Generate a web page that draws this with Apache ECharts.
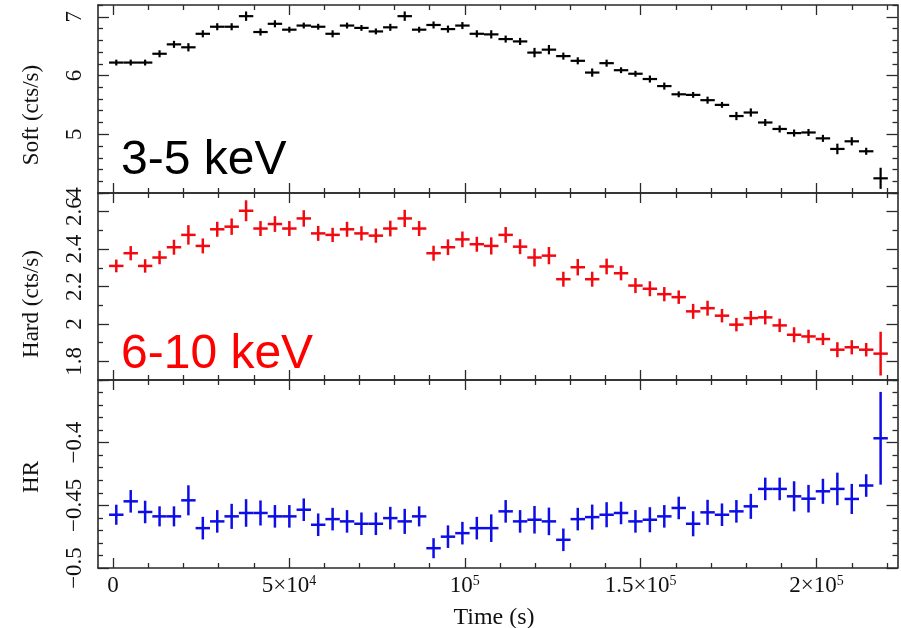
<!DOCTYPE html>
<html>
<head>
<meta charset="utf-8">
<script src="https://cdn.jsdelivr.net/npm/echarts@6/dist/echarts.min.js"></script>
<style>
  html, body { margin: 0; padding: 0; background: #fff; overflow: hidden; }
  #chart { width: 901px; height: 628px; }
</style>
</head>
<body>
<div id="chart"></div>
<script>
// Bin centres of the light curve (s)
const times = [
  900, 5000, 9100, 13200, 17300, 21400, 25500, 29600, 33700, 37800,
  41900, 46000, 50100, 54200, 58300, 62400, 66500, 70600, 74700, 78800,
  82900, 87000, 91100, 95200, 99300, 103400, 107500, 111600, 115700, 119800,
  123900, 128000, 132100, 136200, 140300, 144400, 148500, 152600, 156700, 160800,
  164900, 169000, 173100, 177200, 181300, 185400, 189500, 193600, 197700, 201800,
  205900, 210000, 214100, 218200
];
const binHalfWidth = 2050;

// 3-5 keV count rate (cts/s)
const soft = [
  6.22, 6.22, 6.22, 6.37, 6.53, 6.48, 6.71, 6.83, 6.83, 7.01,
  6.74, 6.88, 6.78, 6.85, 6.83, 6.71, 6.85, 6.81, 6.75, 6.82,
  7.01, 6.78, 6.86, 6.79, 6.85, 6.71, 6.70, 6.62, 6.58, 6.39,
  6.44, 6.33, 6.25, 6.05, 6.21, 6.09, 6.03, 5.94, 5.82, 5.68,
  5.67, 5.58, 5.50, 5.31, 5.37, 5.20, 5.09, 5.02, 5.03, 4.93,
  4.75, 4.88, 4.71, 4.25
];
const softErr = [
  0.05, 0.05, 0.05, 0.06, 0.06, 0.07, 0.06, 0.06, 0.06, 0.08,
  0.06, 0.06, 0.05, 0.05, 0.05, 0.06, 0.05, 0.05, 0.05, 0.06,
  0.08, 0.05, 0.06, 0.06, 0.06, 0.06, 0.07, 0.06, 0.06, 0.08,
  0.08, 0.06, 0.06, 0.07, 0.06, 0.05, 0.05, 0.06, 0.06, 0.05,
  0.05, 0.06, 0.05, 0.07, 0.07, 0.06, 0.06, 0.06, 0.06, 0.06,
  0.09, 0.07, 0.06, 0.18
];

// 6-10 keV count rate (cts/s)
const hard = [
  2.310, 2.378, 2.310, 2.355, 2.410, 2.476, 2.417, 2.506, 2.520, 2.605,
  2.510, 2.534, 2.510, 2.564, 2.484, 2.476, 2.506, 2.484, 2.472, 2.510,
  2.564, 2.510, 2.378, 2.410, 2.452, 2.426, 2.417, 2.476, 2.413, 2.355,
  2.365, 2.239, 2.303, 2.239, 2.307, 2.271, 2.205, 2.188, 2.159, 2.143,
  2.067, 2.084, 2.044, 1.996, 2.031, 2.035, 1.992, 1.942, 1.933, 1.919,
  1.862, 1.875, 1.862, 1.841
];
const hardErr = [
  0.034, 0.038, 0.036, 0.036, 0.040, 0.052, 0.040, 0.040, 0.044, 0.056,
  0.040, 0.042, 0.040, 0.044, 0.040, 0.038, 0.040, 0.038, 0.038, 0.042,
  0.046, 0.040, 0.040, 0.042, 0.042, 0.040, 0.046, 0.042, 0.040, 0.048,
  0.046, 0.040, 0.044, 0.040, 0.042, 0.038, 0.040, 0.040, 0.038, 0.036,
  0.040, 0.040, 0.036, 0.036, 0.038, 0.038, 0.036, 0.040, 0.036, 0.032,
  0.040, 0.038, 0.036, 0.117
];

// Hardness ratio
const hr = [
  -0.4575, -0.4468, -0.4553, -0.4588, -0.4588, -0.4460, -0.4682, -0.4628, -0.4588, -0.4561,
  -0.4561, -0.4588, -0.4588, -0.4535, -0.4655, -0.4610, -0.4628, -0.4647, -0.4647, -0.4602,
  -0.4628, -0.4588, -0.4842, -0.4750, -0.4722, -0.4682, -0.4682, -0.4548, -0.4628, -0.4615,
  -0.4628, -0.4775, -0.4610, -0.4594, -0.4575, -0.4561, -0.4628, -0.4615, -0.4588, -0.4521,
  -0.4647, -0.4556, -0.4575, -0.4548, -0.4508, -0.4369, -0.4369, -0.4428, -0.4447, -0.4388,
  -0.4369, -0.4449, -0.4342, -0.3965
];
const hrErr = [
  0.008, 0.009, 0.009, 0.008, 0.008, 0.012, 0.009, 0.009, 0.010, 0.011,
  0.010, 0.009, 0.009, 0.009, 0.009, 0.009, 0.009, 0.009, 0.009, 0.009,
  0.010, 0.008, 0.008, 0.009, 0.009, 0.009, 0.011, 0.009, 0.009, 0.011,
  0.011, 0.009, 0.009, 0.010, 0.010, 0.009, 0.009, 0.010, 0.009, 0.009,
  0.010, 0.010, 0.009, 0.009, 0.010, 0.009, 0.009, 0.012, 0.011, 0.010,
  0.013, 0.012, 0.009, 0.037
];

// Tick positions
const timeMajorTicks = [0, 50000, 100000, 150000, 200000];
const timeMinorTicks = [10000, 20000, 30000, 40000, 60000, 70000, 80000, 90000,
  110000, 120000, 130000, 140000, 160000, 170000, 180000, 190000, 210000, 220000];
const timeTickLabels = ['0', '5×10|4', '10|5', '1.5×10|5', '2×10|5'];

const softMajorTicks = [4, 5, 6, 7];
const softMinorTicks = [4.2, 4.4, 4.6, 4.8, 5.2, 5.4, 5.6, 5.8, 6.2, 6.4, 6.6, 6.8, 7.2];
const softLabelTicks = [4, 5, 6, 7];

const hardMajorTicks = [1.8, 2.0, 2.2, 2.4, 2.6];
const hardMinorTicks = [1.7, 1.9, 2.1, 2.3, 2.5, 2.7];
const hardLabelTicks = [1.8, 2.0, 2.2, 2.4, 2.6];

const hrMajorTicks = [-0.5, -0.45, -0.4, -0.35];
const hrMinorTicks = [-0.49, -0.48, -0.47, -0.46, -0.44, -0.43, -0.42, -0.41,
  -0.39, -0.38, -0.37, -0.36];
const hrLabelTicks = [-0.5, -0.45, -0.4];

const SERIF = '"Liberation Serif", "DejaVu Serif", serif';
const SANS = '"Liberation Sans", Arial, sans-serif';
const FRAME = '#2a2a2a';
const timeRange = [-4300, 223000];

const panels = [
  { name: 'Soft', values: soft, errors: softErr, color: '#000000', width: 2.2, range: [4, 7.2],
    major: softMajorTicks, minor: softMinorTicks, labels: softLabelTicks,
    fmt: v => String(v), top: 5, height: 188 },
  { name: 'Hard', values: hard, errors: hardErr, color: '#f2090f', width: 2.5, range: [1.7, 2.7],
    major: hardMajorTicks, minor: hardMinorTicks, labels: hardLabelTicks,
    fmt: v => (Math.abs(v - 2) < 1e-9 ? '2' : v.toFixed(1)), top: 193, height: 187 },
  { name: 'HR', values: hr, errors: hrErr, color: '#0d0de6', width: 2.5, range: [-0.5, -0.35],
    major: hrMajorTicks, minor: hrMinorTicks, labels: hrLabelTicks,
    fmt: v => '\u2212' + String(Math.abs(v)), top: 380, height: 188 }
];

function timeLabel(v) {
  const i = timeMajorTicks.indexOf(v);
  const parts = timeTickLabels[i].split('|');
  return parts.length > 1 ? '{b|' + parts[0] + '}{s|' + parts[1] + '}' : '{b|' + parts[0] + '}';
}

const grids = [], xAxes = [], yAxes = [], series = [];

panels.forEach((p, i) => {
  grids.push({ left: 98, right: 3.5, top: p.top, height: p.height, show: false });
  const isBottom = i === panels.length - 1;

  // Time axes: major/minor ticks on the bottom and top edges
  [['bottom', true], ['bottom', false], ['top', true], ['top', false]].forEach(([pos, major]) => {
    xAxes.push({
      type: 'value', gridIndex: i, position: pos,
      min: timeRange[0], max: timeRange[1],
      axisLine: { show: major, onZero: false, lineStyle: { color: FRAME, width: 1.6 } },
      axisTick: { show: true, inside: true, length: major ? 10 : 5,
        customValues: major ? timeMajorTicks : timeMinorTicks,
        lineStyle: { color: FRAME, width: 1.3 } },
      axisLabel: (isBottom && pos === 'bottom' && major) ? {
        show: true, margin: 6, customValues: timeMajorTicks,
        formatter: timeLabel,
        rich: {
          b: { fontFamily: SERIF, fontSize: 23, color: '#111', lineHeight: 24 },
          s: { fontFamily: SERIF, fontSize: 14, color: '#111', verticalAlign: 'top', lineHeight: 14 }
        }
      } : { show: false },
      splitLine: { show: false }
    });
  });

  // Value axes: major/minor ticks on the left and right edges
  [['left', true], ['left', false], ['right', true], ['right', false]].forEach(([pos, major]) => {
    yAxes.push({
      type: 'value', gridIndex: i, position: pos,
      min: p.range[0], max: p.range[1],
      axisLine: { show: major, onZero: false, lineStyle: { color: FRAME, width: 1.6 } },
      axisTick: { show: true, inside: true, length: major ? 11 : 5,
        customValues: major ? p.major : p.minor,
        lineStyle: { color: FRAME, width: 1.3 } },
      axisLabel: (pos === 'left' && major) ? {
        show: true, rotate: 90, margin: 12, customValues: p.labels,
        formatter: p.fmt, fontFamily: SERIF, fontSize: 23, color: '#111'
      } : { show: false },
      splitLine: { show: false }
    });
  });

  const data = times.map((t, k) => [t, p.values[k], binHalfWidth, p.errors[k]]);
  series.push({
    type: 'custom', name: p.name, xAxisIndex: i * 4, yAxisIndex: i * 4,
    data, clip: true, silent: true,
    encode: { x: 0, y: 1 },
    renderItem: (params, api) => {
      const t = api.value(0), v = api.value(1), dx = api.value(2), dy = api.value(3);
      const l = api.coord([t - dx, v]), r = api.coord([t + dx, v]);
      const a = api.coord([t, v + dy]), b = api.coord([t, v - dy]);
      const style = { stroke: p.color, lineWidth: p.width };
      return {
        type: 'group',
        children: [
          { type: 'line', shape: { x1: l[0], y1: l[1], x2: r[0], y2: r[1] }, style },
          { type: 'line', shape: { x1: a[0], y1: a[1], x2: b[0], y2: b[1] }, style }
        ]
      };
    }
  });
});

const chart = echarts.init(document.getElementById('chart'), null, { renderer: 'canvas' });
chart.setOption({
  backgroundColor: '#ffffff',
  animation: false,
  grid: grids,
  xAxis: xAxes,
  yAxis: yAxes,
  series,
  graphic: [
    { type: 'text', x: 32, y: 115, rotation: Math.PI / 2,
      style: { text: 'Soft (cts/s)', font: '23px ' + SERIF, fill: '#111', textAlign: 'center', textVerticalAlign: 'middle' } },
    { type: 'text', x: 32, y: 304, rotation: Math.PI / 2,
      style: { text: 'Hard (cts/s)', font: '23px ' + SERIF, fill: '#111', textAlign: 'center', textVerticalAlign: 'middle' } },
    { type: 'text', x: 32, y: 477, rotation: Math.PI / 2,
      style: { text: 'HR', font: '23px ' + SERIF, fill: '#111', textAlign: 'center', textVerticalAlign: 'middle' } },
    { type: 'text', x: 494, y: 618,
      style: { text: 'Time (s)', font: '24px ' + SERIF, fill: '#111', textAlign: 'center', textVerticalAlign: 'middle' } },
    { type: 'text', x: 121, y: 161,
      style: { text: '3-5 keV', font: '48px ' + SANS, fill: '#000', textAlign: 'left', textVerticalAlign: 'middle' } },
    { type: 'text', x: 121, y: 355,
      style: { text: '6-10 keV', font: '48px ' + SANS, fill: '#ff0000', textAlign: 'left', textVerticalAlign: 'middle' } }
  ]
});
</script>
</body>
</html>
